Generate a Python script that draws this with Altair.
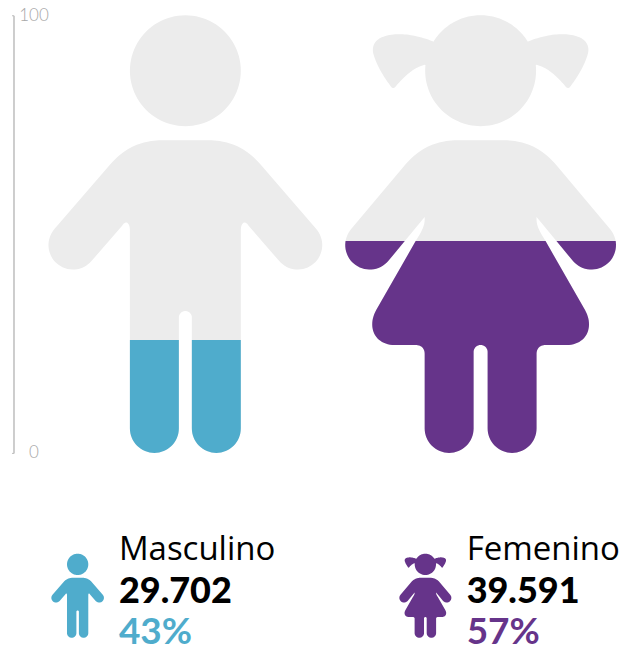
import math
import altair as alt
import pandas as pd

categorias = ["Masculino", "Femenino"]
totales = ["29.702", "39.591"]
porcentajes = ["43%", "57%"]
niveles = [25.8, 48.4]
colores = ["#4FACCC", "#66348A"]
GRIS = "#ECECEC"
EJE = "#BDBDBD"
FONT = "Lato"


def arc(cx, cy, r, a0, a1, n=32):
    return [(cx + r * math.cos(math.radians(a0 + (a1 - a0) * i / n)),
             cy + r * math.sin(math.radians(a0 + (a1 - a0) * i / n))) for i in range(n + 1)]


def bez(p0, p1, p2, p3, n=24):
    pts = []
    for i in range(n + 1):
        t = i / n
        u = 1 - t
        pts.append((u**3 * p0[0] + 3 * u * u * t * p1[0] + 3 * u * t * t * p2[0] + t**3 * p3[0],
                    u**3 * p0[1] + 3 * u * u * t * p1[1] + 3 * u * t * t * p2[1] + t**3 * p3[1]))
    return pts


def mirrored(half, cx):
    return half + [(2 * cx - x, y) for x, y in reversed(half)]


def torso_top(d, hand):
    return (bez((167 + d, 140), (145 + d, 140), (128 + d, 144), (110 + d, 164.7))
            + arc(hand, 245, 24.5, 220.8, 40.8))


def boy():
    cx = 185.5
    head = arc(cx, 70.5, 55.5, 0, 360, 96)
    half = ([(cx, 140)] + torso_top(0, 73)
            + bez((122, 226), (124, 222.5), (127, 221), (128.5, 224))
            + bez((128.5, 224), (130, 226), (130, 229), (130, 232))
            + [(130, 428.5)] + arc(154.5, 428.5, 24.5, 180, 0)
            + arc(185.5, 317.5, 6.5, 180, 270))
    return [head, mirrored(half, cx)]


def girl():
    cx = 481.0
    head = (arc(cx, 70.5, 55.5, 270, 211.6)
            + bez((433, 41), (415, 34), (398, 32), (385, 36))
            + bez((385, 36), (375, 39), (372, 46), (373.5, 53))
            + bez((373.5, 53), (377, 66), (385, 78), (391, 86))
            + bez((391, 86), (393, 89), (395, 88), (397, 85))
            + bez((397, 85), (405, 76), (413, 68), (425, 64.5))
            + arc(cx, 70.5, 55.5, 186, 90))
    half = ([(cx, 140)] + torso_top(295.5, 370)
            + [(425, 217)]
            + bez((425, 217), (425.5, 226), (422, 231), (416, 241))
            + [(376.5, 310)]
            + bez((376.5, 310), (367, 327), (375, 345), (395, 345))
            + [(416, 345)]
            + bez((416, 345), (421, 345), (425, 348), (425, 354))
            + [(425, 428.5)] + arc(449.5, 428.5, 24.5, 180, 0)
            + arc(481, 352, 7, 180, 270))
    return [mirrored(head, cx), mirrored(half, cx)]


def clip_below(poly, level):
    out = []
    for i, p in enumerate(poly):
        q = poly[(i + 1) % len(poly)]
        pin, qin = p[1] >= level, q[1] >= level
        if pin:
            out.append(p)
        if pin != qin:
            t = (level - p[1]) / (q[1] - p[1])
            out.append((p[0] + t * (q[0] - p[0]), level))
    return out


def to_path(polys, cx):
    parts = []
    for poly in polys:
        if len(poly) < 3:
            continue
        parts.append("M" + "L".join(f"{x - cx:.2f},{y - 453:.2f}" for x, y in poly) + "Z")
    return "".join(parts)


iconos = [boy(), girl()]
centros = [185.5, 481.0]

rows = []
for cat, polys, c, niv, col in zip(categorias, iconos, centros, niveles, colores):
    yl = 453 - 438 * niv / 100
    rows.append(dict(cat=cat, color=GRIS, forma=to_path(polys, c), base=0))
    rows.append(dict(cat=cat, color=col, forma=to_path([clip_below(p, yl) for p in polys], c), base=0))
df = pd.DataFrame(rows)

OX, OY = 5.5, 8

icons = alt.Chart(df).mark_point(filled=True, opacity=1, strokeWidth=0).encode(
    x=alt.X("cat:N", scale=alt.Scale(type="point", padding=0, domain=categorias,
                                     range=[185.5 - 8 - OX, 481 - 8 - OX]), axis=None),
    y=alt.Y("base:Q", scale=alt.Scale(domain=[0, 100], range=[445, 7]),
            axis=alt.Axis(values=[0, 100], orient="left", title=None, grid=False,
                          domainColor=EJE, domainWidth=1.5, tickColor=EJE, tickSize=2, tickWidth=1,
                          labelColor="#A8A8A8", labelFont=FONT, labelFontSize=17, labelFontWeight=300,
                          labelAlign="center", labelBaseline="middle", labelPadding=-22)),
    shape=alt.Shape("forma:N", scale=None),
    fill=alt.Fill("color:N", scale=None),
    size=alt.value(4),
)

layers = [icons]
leg_x = [77.7, 425.7]
txt_x = [119, 467]
for i, cat in enumerate(categorias):
    d = pd.DataFrame([dict(forma=to_path(iconos[i], centros[i]), nombre=cat, total=totales[i], pct=porcentajes[i])])
    base = alt.Chart(d)
    layers.append(base.mark_point(filled=True, opacity=1, strokeWidth=0, fill=colores[i]).encode(
        x=alt.value(leg_x[i] - 8 - OX), y=alt.value(638 - 8),
        shape=alt.Shape("forma:N", scale=None), size=alt.value(4 * 0.192**2)))
    tx = txt_x[i] - 8 - OX
    layers.append(base.mark_text(align="left", baseline="alphabetic", font="Open Sans", fontSize=33, color="#000000").encode(
        x=alt.value(tx), y=alt.value(560 - 8), text="nombre:N"))
    layers.append(base.mark_text(align="left", baseline="alphabetic", font=FONT, fontSize=36, fontWeight=900, color="#000000").encode(
        x=alt.value(tx), y=alt.value(603 - 8), text="total:N"))
    layers.append(base.mark_text(align="left", baseline="alphabetic", font=FONT, fontSize=37, fontWeight=700, color=colores[i]).encode(
        x=alt.value(tx), y=alt.value(644 - 8), text="pct:N"))

chart = alt.layer(*layers).resolve_scale(x="independent", y="shared").properties(
    width=608, height=640,
    padding={"left": OX, "top": 0, "right": 0, "bottom": 0},
    autosize=alt.AutoSizeParams(type="none"),
).configure_view(stroke=None)

chart.save("out.html", embed_options={"renderer": "svg", "actions": False})
